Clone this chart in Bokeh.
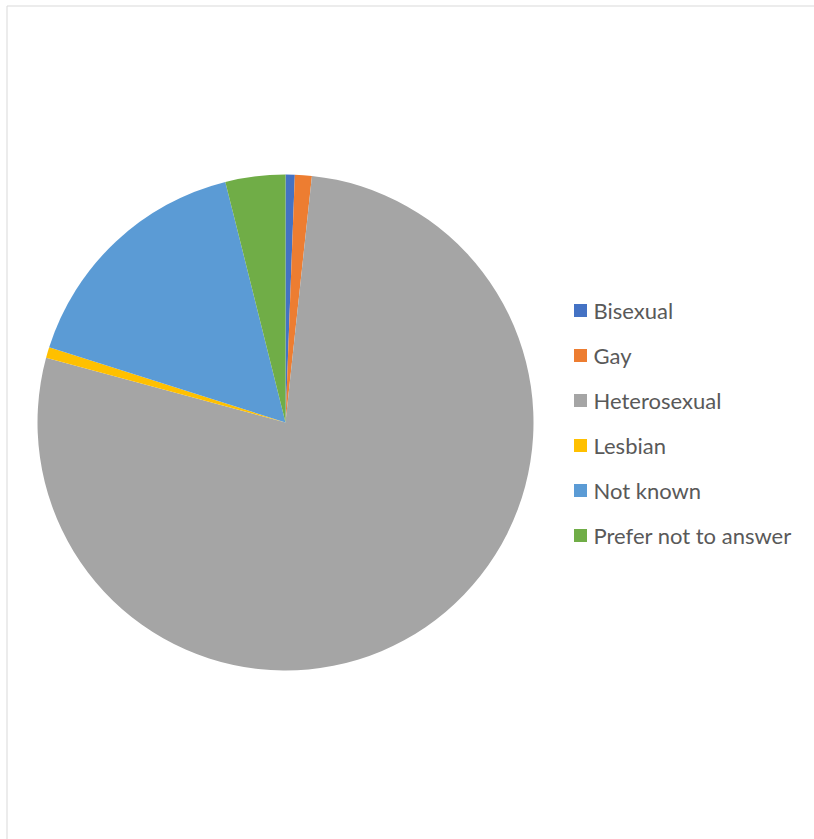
import math
from bokeh.plotting import figure
from bokeh.models import Range1d, ColumnDataSource
from bokeh.core.properties import value
from bokeh.embed import file_html
from bokeh.resources import INLINE

categories = ["Bisexual", "Gay", "Heterosexual", "Lesbian", "Not known", "Prefer not to answer"]
shares = [0.6, 1.1, 77.5, 0.7, 16.2, 3.9]
colors = ["#4472C4", "#ED7D31", "#A5A5A5", "#FFC000", "#5B9BD5", "#70AD47"]

W, H = 814, 839
p = figure(width=W, height=H, output_backend="svg", toolbar_location=None,
           x_range=Range1d(0, W), y_range=Range1d(H, 0),
           x_axis_location=None, y_axis_location=None, min_border=0,
           outline_line_color=None, background_fill_color="white")
p.grid.visible = False

# chart-area border
p.quad(left=[6.5], right=[W + 20], top=[5.5], bottom=[H + 20],
       fill_color=None, line_color="#D9D9D9", line_width=1)

# pie, clockwise on screen from 12 o'clock
total = sum(shares)
starts, ends = [], []
acc = 0.0
for s in shares:
    a0 = acc / total * 2 * math.pi
    acc += s
    a1 = acc / total * 2 * math.pi
    starts.append(math.pi / 2 - a1)
    ends.append(math.pi / 2 - a0)

cx, cy, r = 285, 422, 248
src = ColumnDataSource(dict(cat=categories, start=starts, end=ends, color=colors))
p.wedge(x=cx, y=cy, radius=r, start_angle="start", end_angle="end",
        direction="anticlock", fill_color="color", line_color=None, source=src)

# legend
ly0, pitch = 310, 45
ys = [ly0 + i * pitch for i in range(len(categories))]
lsrc = ColumnDataSource(dict(y=ys, cat=categories, color=colors))
p.rect(x=580, y="y", width=13, height=13, fill_color="color", line_color=None, source=lsrc)
p.text(x=593, y="y", text="cat", source=lsrc, text_font=value("Lato"),
       text_font_size="22px", text_color="#595959", text_baseline="middle", text_align="left")

open("out.html", "w").write(file_html(p, INLINE))
